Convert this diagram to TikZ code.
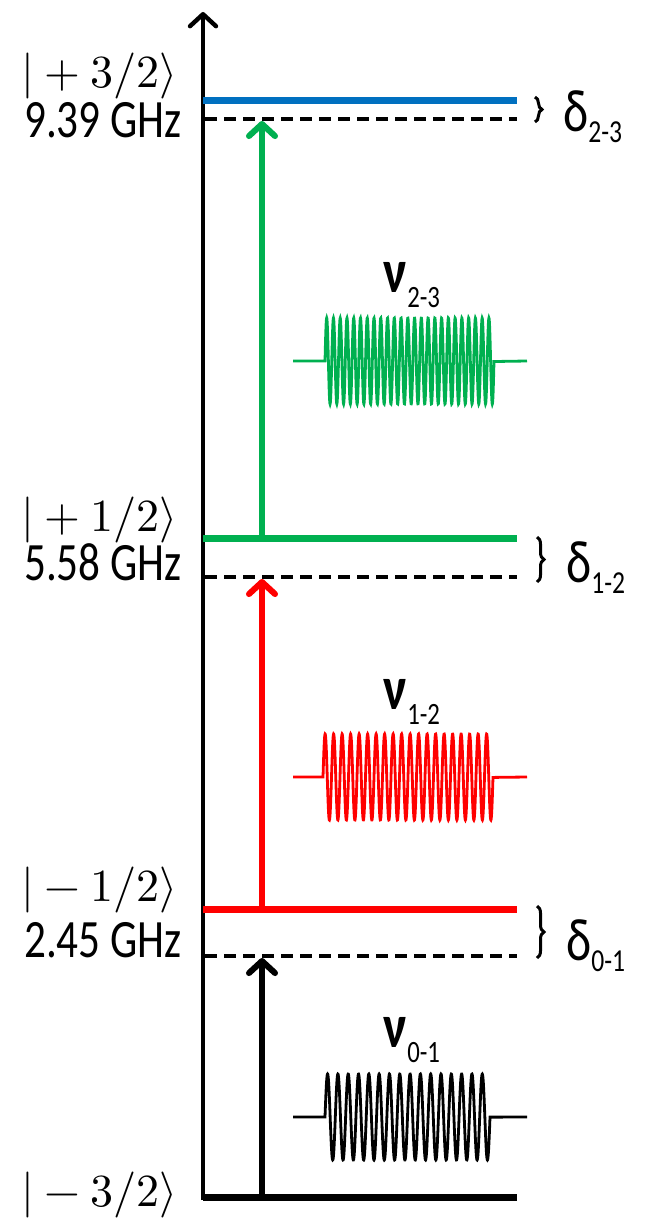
\documentclass[tikz,border=0pt]{standalone}
\usepackage{fontspec}
\usepackage{unicode-math}
\setmainfont{Carlito}[FakeStretch=0.8]
\setmathfont{Latin Modern Math}
\usetikzlibrary{arrows.meta,decorations.pathreplacing}
\definecolor{lvlblue}{RGB}{0,112,192}
\definecolor{lvlgreen}{RGB}{0,176,80}
\definecolor{lvlred}{RGB}{255,0,0}
\tikzset{
	>={Straight Barb[length=12pt,width=26pt,line width=0pt 1.1,round]},
	elevel/.style={line width=7pt},
	detuned/.style={line width=3.2pt, dash pattern=on 12pt off 7pt},
	trans/.style={->, line width=5.5pt},
	ketlabel/.style={anchor=east, inner sep=0pt, font=\fontsize{46}{50}\selectfont},
	freqlabel/.style={anchor=east, inner sep=0pt, font=\fontsize{54}{58}\selectfont},
	gaplabel/.style={anchor=base west, inner sep=0pt, font=\fontsize{60}{64}\selectfont},
	pulselabel/.style={anchor=base, inner sep=0pt, font=\fontsize{62}{66}\selectfont},
	gapbrace/.style={decorate, decoration={brace, amplitude=7pt}, line width=3pt},
	burst/.style={line width=2.8pt}
}

\begin{document}
\begin{tikzpicture}[x=1pt, y=-1pt]
	\useasboundingbox (0,0) rectangle (664,1218);

	% --- Axis ---
	\coordinate (origin) at (203,1200);
	\coordinate (ytop) at (203,12);
	\draw[->, line width=4pt] (origin) -- (ytop);

	% --- Levels ---
	\coordinate (l0w) at (203,1197); \coordinate (l0e) at (517,1197);
	\coordinate (l1w) at (203,909);  \coordinate (l1e) at (517,909);
	\coordinate (l2w) at (203,538);  \coordinate (l2e) at (517,538);
	\coordinate (l3w) at (203,100);  \coordinate (l3e) at (517,100);
	\coordinate (d1w) at (205,956);  \coordinate (d1e) at (517,956);
	\coordinate (d2w) at (205,577);  \coordinate (d2e) at (517,577);
	\coordinate (d3w) at (205,119);  \coordinate (d3e) at (517,119);

	\draw[elevel, black] (l0w) -- (l0e);
	\draw[elevel, lvlred] (l1w) -- (l1e);
	\draw[elevel, lvlgreen] (l2w) -- (l2e);
	\draw[elevel, lvlblue] (l3w) -- (l3e);
	\draw[detuned] (d1w) -- (d1e);
	\draw[detuned] (d2w) -- (d2e);
	\draw[detuned] (d3w) -- (d3e);

	% --- Transitions ---
	\coordinate (a0) at (262,1197); \coordinate (a0t) at (262,958);
	\coordinate (a1) at (262,909);  \coordinate (a1t) at (262,579);
	\coordinate (a2) at (262,538);  \coordinate (a2t) at (262,121);
	\draw[trans, black] (a0) -- (a0t);
	\draw[trans, lvlred] (a1) -- (a1t);
	\draw[trans, lvlgreen] (a2) -- (a2t);

	% --- State labels ---
	\node[ketlabel] (ket3) at (178,76) {$|+3/2\rangle$};
	\node[freqlabel] (f3) at (182,120) {9.39 GHz};
	\node[ketlabel] (ket2) at (178,520) {$|+1/2\rangle$};
	\node[freqlabel] (f2) at (182,562) {5.58 GHz};
	\node[ketlabel] (ket1) at (178,890) {$|-1/2\rangle$};
	\node[freqlabel] (f1) at (182,940) {2.45 GHz};
	\node[ketlabel] (ket0) at (178,1195) {$|-3/2\rangle$};

	% --- Detunings ---
	\coordinate (b3t) at (535,97);  \coordinate (b3b) at (535,122);
	\coordinate (b2t) at (537,537); \coordinate (b2b) at (537,582);
	\coordinate (b1t) at (537,906); \coordinate (b1b) at (537,958);
	\draw[gapbrace] (b3t) -- (b3b);
	\draw[gapbrace] (b2t) -- (b2b);
	\draw[gapbrace] (b1t) -- (b1b);
	\node[gaplabel] (g23) at (563,131) {δ\raisebox{-11pt}{\fontsize{32}{36}\selectfont 2-3}};
	\node[gaplabel] (g12) at (566,582) {δ\raisebox{-11pt}{\fontsize{32}{36}\selectfont 1-2}};
	\node[gaplabel] (g01) at (566,960) {δ\raisebox{-11pt}{\fontsize{32}{36}\selectfont 0-1}};

	% --- Pulses ---
	\foreach \yc/\nc/\col/\xa/\xb in {361/25/lvlgreen/325/494, 777/20/lvlred/323/493, 1117/16/black/325/490}
		\draw[burst, color=\col] (293,\yc) -- (\xa,\yc)
			-- plot[domain=\xa:\xb, samples=900] (\x, {\yc-43*sin((\x-\xa)/(\xb-\xa)*\nc*360)})
			-- (527,\yc);
	\node[pulselabel] (nu23) at (412,292) {\textbf{ν}\raisebox{-15pt}{\fontsize{31}{35}\selectfont 2-3}};
	\node[pulselabel] (nu12) at (412,709) {\textbf{ν}\raisebox{-15pt}{\fontsize{31}{35}\selectfont 1-2}};
	\node[pulselabel] (nu01) at (412,1047) {\textbf{ν}\raisebox{-15pt}{\fontsize{31}{35}\selectfont 0-1}};

\end{tikzpicture}
\end{document}
